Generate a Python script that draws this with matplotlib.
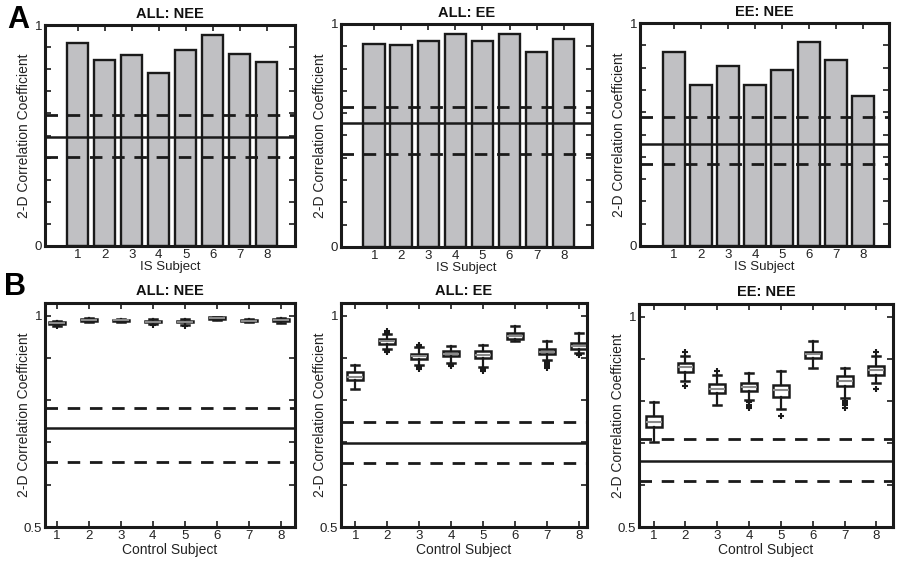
import numpy as np
import matplotlib
matplotlib.use("Agg")
import matplotlib.pyplot as plt

plt.rcParams["font.family"] = ["Liberation Sans", "DejaVu Sans"]

subjects = [1, 2, 3, 4, 5, 6, 7, 8]

# --- row A: IS subject bars ---
titles = ["ALL: NEE", "ALL: EE", "EE: NEE"]
a1_vals = [0.917, 0.842, 0.863, 0.781, 0.885, 0.955, 0.869, 0.834]
a2_vals = [0.909, 0.904, 0.922, 0.955, 0.922, 0.954, 0.874, 0.933]
a3_vals = [0.868, 0.721, 0.807, 0.721, 0.790, 0.913, 0.834, 0.673]
a_mean = [0.495, 0.555, 0.457]
a_upper = [0.593, 0.627, 0.577]
a_lower = [0.401, 0.419, 0.368]

# --- row B: control subject boxplots ---
b1_med = [0.982, 0.990, 0.989, 0.986, 0.986, 0.994, 0.988, 0.989]
b1_q1 = [0.980, 0.988, 0.988, 0.984, 0.984, 0.993, 0.987, 0.987]
b1_q3 = [0.984, 0.991, 0.990, 0.988, 0.988, 0.996, 0.989, 0.991]
b1_lo = [0.976, 0.985, 0.986, 0.980, 0.978, 0.990, 0.985, 0.983]
b1_hi = [0.987, 0.995, 0.992, 0.991, 0.993, 0.998, 0.991, 0.995]
b1_fl = [[0.975], [], [], [0.978], [0.976], [], [], []]

b2_med = [0.856, 0.939, 0.904, 0.910, 0.908, 0.952, 0.915, 0.929]
b2_q1 = [0.848, 0.933, 0.897, 0.905, 0.900, 0.946, 0.909, 0.922]
b2_q3 = [0.866, 0.945, 0.910, 0.916, 0.916, 0.959, 0.922, 0.935]
b2_lo = [0.826, 0.920, 0.883, 0.889, 0.879, 0.941, 0.895, 0.912]
b2_hi = [0.884, 0.956, 0.925, 0.929, 0.931, 0.975, 0.939, 0.958]
b2_fl = [[], [0.960, 0.963, 0.917, 0.915], [0.929, 0.931, 0.878, 0.874],
         [0.886, 0.883, 0.881], [0.875, 0.872, 0.868], [],
         [0.890, 0.885, 0.880, 0.876], [0.909, 0.907]]

b3_med = [0.749, 0.880, 0.829, 0.833, 0.825, 0.910, 0.848, 0.873]
b3_q1 = [0.737, 0.868, 0.819, 0.823, 0.810, 0.901, 0.836, 0.862]
b3_q3 = [0.763, 0.890, 0.839, 0.842, 0.838, 0.917, 0.859, 0.883]
b3_lo = [0.701, 0.848, 0.789, 0.802, 0.781, 0.878, 0.807, 0.843]
b3_hi = [0.797, 0.906, 0.862, 0.865, 0.870, 0.943, 0.879, 0.906]
b3_fl = [[], [0.917, 0.836], [0.871], [0.796, 0.790, 0.786, 0.782], [0.765],
         [], [0.800, 0.795, 0.789, 0.783], [0.916, 0.828]]

b_mean = [0.734, 0.698, 0.657]
b_upper = [0.781, 0.749, 0.710]
b_lower = [0.653, 0.651, 0.609]

fig = plt.figure(figsize=(9, 5.65), dpi=100)

W, H = 900, 565
def px_axes(l, t, r, b):
    return fig.add_axes([l / W, 1 - b / H, (r - l) / W, (b - t) / H])

top_boxes = [(45, 25, 295, 246), (341, 24, 592, 247), (640, 23, 889, 246)]
bot_boxes = [(45, 303, 295, 527), (341, 303, 587, 527), (639, 304, 893, 527)]
top_xlims = [(-0.21, 9.05), (-0.23, 9.05), (-0.26, 8.96)]
bot_xlims = [(0.63, 8.45), (0.55, 8.25), (0.54, 8.52)]

dash = (0, (4.5, 3.5))
text_col = "#222222"

def style_axes(ax):
    for s in ax.spines.values():
        s.set_linewidth(2.2)
        s.set_color("#1a1a1a")
    ax.tick_params(direction="in", length=4, width=1.2, top=True, right=True,
                   labelsize=9.5, pad=2, colors="#1a1a1a", labelcolor=text_col)

def ref_lines(ax, m, u, lo):
    ax.axhline(u, color="#1a1a1a", lw=2.0, ls=dash, zorder=5)
    ax.axhline(m, color="#1a1a1a", lw=1.8, zorder=5)
    ax.axhline(lo, color="#1a1a1a", lw=2.0, ls=dash, zorder=5)

a_vals = [a1_vals, a2_vals, a3_vals]
for i in range(3):
    ax = px_axes(*top_boxes[i])
    ax.bar(subjects, a_vals[i], width=0.8, color="#c0c0c3", edgecolor="#1a1a1a",
           linewidth=1.7, zorder=2)
    ref_lines(ax, a_mean[i], a_upper[i], a_lower[i])
    ax.set_xlim(*top_xlims[i])
    ax.set_ylim(0, 1)
    yt = np.round(np.arange(0, 1.01, 0.1), 1)
    ax.set_yticks(yt)
    ax.set_yticklabels(["0"] + [""] * 9 + ["1"])
    ax.set_xticks(subjects)
    style_axes(ax)
    ax.set_title(titles[i], fontsize=10.5, fontweight="bold", pad=5, color="#111")
    ax.set_xlabel("IS Subject", fontsize=9.5, labelpad=0.5, color=text_col)
    ax.set_ylabel("2-D Correlation Coefficient", fontsize=10, labelpad=3,
                  color=text_col)

b_sets = [
    (b1_med, b1_q1, b1_q3, b1_lo, b1_hi, b1_fl),
    (b2_med, b2_q1, b2_q3, b2_lo, b2_hi, b2_fl),
    (b3_med, b3_q1, b3_q3, b3_lo, b3_hi, b3_fl),
]
for i in range(3):
    ax = px_axes(*bot_boxes[i])
    med, q1, q3, lo, hi, fl = b_sets[i]
    stats = []
    for k in range(8):
        stats.append({"med": med[k], "q1": q1[k], "q3": q3[k],
                      "whislo": lo[k], "whishi": hi[k], "fliers": fl[k]})
    ref_lines(ax, b_mean[i], b_upper[i], b_lower[i])
    ax.bxp(stats, positions=subjects, widths=0.5, capwidths=0.25,
           patch_artist=True, manage_ticks=False,
           boxprops=dict(facecolor="white", edgecolor="#1a1a1a", linewidth=1.8),
           medianprops=dict(color="#8a8a8a", linewidth=1.5),
           whiskerprops=dict(color="#1a1a1a", linewidth=1.6),
           capprops=dict(color="#1a1a1a", linewidth=1.8),
           flierprops=dict(marker="+", markersize=5, markeredgecolor="#1a1a1a",
                           markeredgewidth=1.5))
    ax.set_xlim(*bot_xlims[i])
    ax.set_ylim(0.5, 1.03)
    yt = np.round(np.arange(0.5, 1.01, 0.1), 1)
    ax.set_yticks(yt)
    ax.set_yticklabels(["0.5"] + [""] * 4 + ["1"])
    ax.set_xticks(subjects)
    ax.set_xticklabels([str(s) for s in subjects])
    style_axes(ax)
    ax.set_title(titles[i], fontsize=10.5, fontweight="bold", pad=6, color="#111")
    ax.set_xlabel("Control Subject", fontsize=10, labelpad=1, color=text_col)
    ax.set_ylabel("2-D Correlation Coefficient", fontsize=10, labelpad=-5,
                  color=text_col)

fig.text(0.008, 0.992, "A", fontsize=22, fontweight="bold", va="top")
fig.text(0.005, 0.518, "B", fontsize=22, fontweight="bold", va="top")

fig.savefig("out.png", dpi=100)
